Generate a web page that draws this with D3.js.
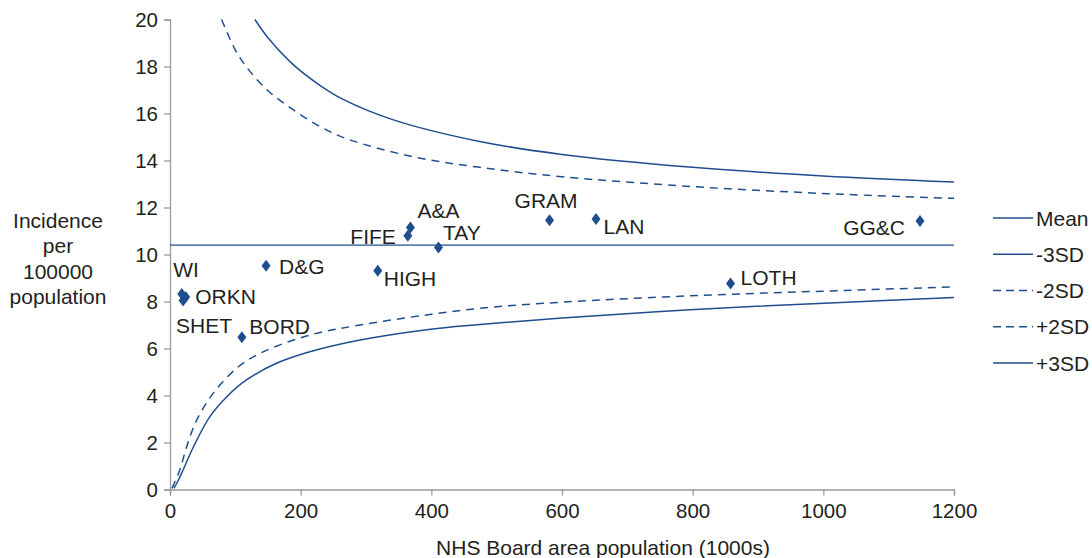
<!DOCTYPE html>
<html>
<head>
<meta charset="utf-8">
<script src="https://cdn.jsdelivr.net/npm/d3@7"></script>
<style>
  html, body { margin: 0; padding: 0; background: #fff; }
  svg { display: block; font-family: "Liberation Sans", Arial, Helvetica, sans-serif; }
</style>
</head>
<body>
<svg id="chart" width="1092" height="558"></svg>
<script>
// NHS Board areas: population (1000s) and incidence per 100000
const boards = ["WI", "ORKN", "SHET", "BORD", "D&G", "HIGH", "FIFE", "A&A", "TAY", "GRAM", "LAN", "LOTH", "GG&C"];
const population = [18, 24, 20, 110, 147, 318, 364, 368, 411, 581, 652, 858, 1148];
const incidence = [8.32, 8.19, 8.04, 6.48, 9.52, 9.31, 10.8, 11.15, 10.3, 11.46, 11.51, 8.77, 11.43];

const meanRate = 10.4;

// Control limits sampled along population (1000s)
const upper3Pop = [130, 150, 189, 230, 265, 342, 474, 600, 800, 1000, 1200];
const upper3Val = [20, 19.22, 18.07, 17.19, 16.6, 15.73, 14.81, 14.26, 13.71, 13.34, 13.08];
const upper2Pop = [79, 100, 117, 150, 189, 230, 270, 372, 474, 600, 800, 1006, 1200];
const upper2Val = [20, 18.7, 17.98, 16.97, 16.15, 15.44, 14.93, 14.16, 13.71, 13.31, 12.89, 12.59, 12.39];
const lower2Pop = [3, 15, 25.5, 41, 66, 102, 138, 214, 291, 393, 474, 600, 812, 1010, 1200];
const lower2Val = [0.05, 0.83, 1.82, 2.96, 4.09, 5.16, 5.8, 6.57, 7.0, 7.43, 7.71, 7.97, 8.26, 8.45, 8.62];
const lower3Pop = [6, 12, 20, 36, 61, 87, 117, 163, 214, 291, 393, 474, 600, 796, 1010, 1200];
const lower3Val = [0.05, 0.35, 0.83, 1.82, 3.1, 3.95, 4.66, 5.37, 5.86, 6.36, 6.8, 7.02, 7.3, 7.65, 7.94, 8.17];

const xTicks = [0, 200, 400, 600, 800, 1000, 1200];
const yTicks = [0, 2, 4, 6, 8, 10, 12, 14, 16, 18, 20];

const legendNames = ["Mean", "-3SD", "-2SD", "+2SD", "+3SD"];

// Label placement next to each marker (pixel offsets, anchor)
const labelPlacement = {
  "WI":   { dx: -8.5, dy: -17, anchor: "start" },
  "ORKN": { dx: 9.5,  dy: 7,   anchor: "start" },
  "SHET": { dx: -7,   dy: 32.5, anchor: "start" },
  "BORD": { dx: 7.5,  dy: -3,  anchor: "start" },
  "D&G":  { dx: 13,   dy: 8,   anchor: "start" },
  "HIGH": { dx: 6,    dy: 15,  anchor: "start" },
  "FIFE": { dx: -12,  dy: 8,   anchor: "end" },
  "A&A":  { dx: 7,    dy: -9,  anchor: "start" },
  "TAY":  { dx: 4.5,  dy: -7,  anchor: "start" },
  "GRAM": { dx: -35,  dy: -12, anchor: "start" },
  "LAN":  { dx: 7.5,  dy: 15,  anchor: "start" },
  "LOTH": { dx: 10,   dy: 2,   anchor: "start" },
  "GG&C": { dx: -15,  dy: 14,  anchor: "end" }
};

const navy = "#1f4e8e";
const textCol = "#231f20";
const axisCol = "#9a9a9a";
const dash = "8,6";
const fontSize = "21px";

const svg = d3.select("#chart");

const x = d3.scaleLinear().domain([0, 1200]).range([170, 954]);
const y = d3.scaleLinear().domain([0, 20]).range([489.5, 19.5]);

// Y axis
const yAxis = d3.axisLeft(y).tickValues(yTicks).tickSize(6).tickPadding(6).tickFormat(d3.format("d"));
const gy = svg.append("g").attr("transform", `translate(${x(0)},0)`).call(yAxis);
gy.select(".domain").attr("stroke", axisCol).attr("stroke-width", 1.3);
gy.selectAll(".tick line").attr("stroke", axisCol).attr("stroke-width", 1.3);
gy.selectAll(".tick text").attr("fill", textCol).style("font-size", "20.5px");

// X axis
const xAxis = d3.axisBottom(x).tickValues(xTicks).tickSize(6).tickPadding(8).tickFormat(d3.format("d"));
const gx = svg.append("g").attr("transform", `translate(0,${y(0)})`).call(xAxis);
gx.select(".domain").attr("stroke", axisCol).attr("stroke-width", 1.3);
gx.selectAll(".tick line").attr("stroke", axisCol).attr("stroke-width", 1.3);
gx.selectAll(".tick text").attr("fill", textCol).style("font-size", "20.5px");

// Axis titles
svg.append("text")
  .attr("x", 603).attr("y", 555)
  .attr("text-anchor", "middle")
  .attr("fill", textCol).style("font-size", fontSize)
  .text("NHS Board area population (1000s)");

const yTitle = ["Incidence", "per", "100000", "population"];
svg.append("g").selectAll("text").data(yTitle).join("text")
  .attr("x", 58).attr("y", (d, i) => 228 + i * 25.3)
  .attr("text-anchor", "middle")
  .attr("fill", textCol).style("font-size", fontSize)
  .text(d => d);

// Lines: mean and control limits
const line = d3.line().x(d => x(d[0])).y(d => y(d[1])).curve(d3.curveCatmullRom.alpha(0.5));
const zipPts = (a, b) => a.map((v, i) => [v, b[i]]);

const series = [
  { pts: [[0, meanRate], [1200, meanRate]], dashed: false, w: 1.4 },
  { pts: zipPts(lower3Pop, lower3Val), dashed: false, w: 1.5 },
  { pts: zipPts(lower2Pop, lower2Val), dashed: true, w: 1.5 },
  { pts: zipPts(upper2Pop, upper2Val), dashed: true, w: 1.5 },
  { pts: zipPts(upper3Pop, upper3Val), dashed: false, w: 1.5 }
];

svg.append("g").selectAll("path").data(series).join("path")
  .attr("d", d => line(d.pts))
  .attr("fill", "none")
  .attr("stroke", navy)
  .attr("stroke-width", d => d.w)
  .attr("stroke-dasharray", d => d.dashed ? dash : null);

// Markers
const pts = boards.map((b, i) => ({ name: b, px: x(population[i]), py: y(incidence[i]) }));
const diamond = "M0,-6L4.5,0L0,6L-4.5,0Z";

svg.append("g").selectAll("path").data(pts).join("path")
  .attr("d", diamond)
  .attr("transform", d => `translate(${d.px},${d.py})`)
  .attr("fill", navy);

svg.append("g").selectAll("text").data(pts).join("text")
  .attr("x", d => d.px + labelPlacement[d.name].dx)
  .attr("y", d => d.py + labelPlacement[d.name].dy)
  .attr("text-anchor", d => labelPlacement[d.name].anchor)
  .attr("fill", textCol).style("font-size", fontSize)
  .text(d => d.name);

// Legend
const legend = svg.append("g");
const legendDashed = [false, false, true, true, false];
const lg = legend.selectAll("g").data(legendNames).join("g")
  .attr("transform", (d, i) => `translate(0,${218 + i * 36.25})`);
lg.append("line")
  .attr("x1", 993).attr("x2", 1033).attr("y1", 0).attr("y2", 0)
  .attr("stroke", navy).attr("stroke-width", 1.5)
  .attr("stroke-dasharray", (d, i) => legendDashed[i] ? "8,5" : null);
lg.append("text")
  .attr("x", 1036).attr("y", 0).attr("dy", "0.36em")
  .attr("fill", textCol).style("font-size", fontSize)
  .text(d => d);
</script>
</body>
</html>
